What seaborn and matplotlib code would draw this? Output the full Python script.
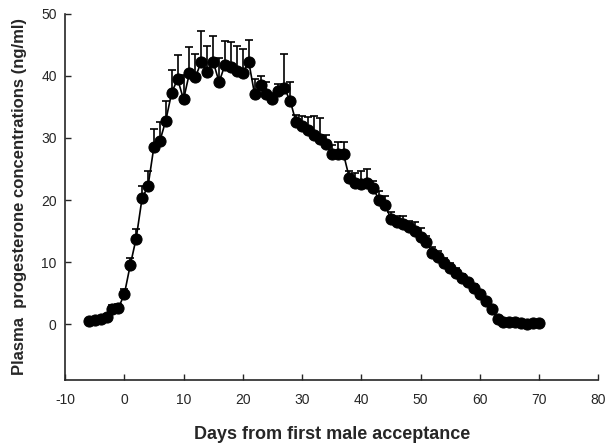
import numpy as np
import pandas as pd
import matplotlib
matplotlib.use("Agg")
import matplotlib.pyplot as plt
import seaborn as sns

# ------------------------------
# Data
# ------------------------------
days = list(range(-6, 71))
progesterone = [0.5, 0.7, 0.8, 1.2, 2.5, 2.6, 4.8, 9.5, 13.8, 20.3, 22.2, 28.6,
                29.5, 32.8, 37.3, 39.5, 36.2, 40.5, 39.8, 42.3, 40.6, 42.3, 39.0,
                41.8, 41.5, 40.8, 40.4, 42.3, 37.0, 38.5, 37.0, 36.2, 37.5, 38.0,
                36.0, 32.5, 32.0, 31.3, 30.5, 29.9, 29.0, 27.4, 27.4, 27.4, 23.5,
                22.8, 22.6, 22.8, 21.9, 20.0, 19.2, 17.0, 16.5, 16.2, 15.6, 15.0,
                14.0, 13.2, 11.5, 10.8, 9.8, 9.0, 8.2, 7.5, 6.8, 5.8, 4.8, 3.8,
                2.5, 0.8, 0.3, 0.4, 0.3, 0.2, 0.1, 0.2, 0.2]
sem = [0.3, 0.3, 0.4, 0.5, 0.6, 0.6, 0.8, 1.2, 1.6, 2.0, 2.4, 2.8,
       3.0, 3.2, 3.6, 3.8, 4.0, 4.2, 3.8, 5.0, 4.2, 4.2, 3.8,
       3.8, 3.9, 4.0, 4.0, 3.5, 2.5, 1.5, 2.0, 1.0, 1.2, 5.5,
       3.0, 1.2, 1.5, 2.0, 3.0, 3.3, 1.5, 1.5, 2.0, 2.0, 1.2,
       1.5, 2.0, 2.2, 1.2, 1.5, 1.5, 1.0, 1.0, 1.3, 1.0, 1.4,
       1.5, 1.0, 1.0, 1.0, 0.8, 0.8, 0.8, 0.6, 0.5, 0.6, 0.5, 0.4,
       0.3, 0.2, 0.1, 0.1, 0.1, 0.1, 0.1, 0.1, 0.1]

df = pd.DataFrame({"day": days, "p4": progesterone, "sem": sem})

# ------------------------------
# Plot
# ------------------------------
sns.set_style("ticks")
plt.rcParams['font.family'] = ['Liberation Sans', 'DejaVu Sans']
plt.rcParams['axes.unicode_minus'] = False

fig = plt.figure(figsize=(6.08, 4.45), dpi=100)
ax = fig.add_axes([0.107, 0.146, 0.877, 0.823])

# upper-only error bars
ax.errorbar(df["day"], df["p4"], yerr=[np.zeros(len(df)), df["sem"]],
            fmt="none", ecolor="black", elinewidth=1.2, capsize=3, capthick=1.2,
            zorder=1)
sns.lineplot(data=df, x="day", y="p4", ax=ax, color="black", linewidth=1.2,
             marker="o", markersize=8, markeredgecolor="black",
             markerfacecolor="black", zorder=2)

ax.set_xlim(-10, 80)
ax.set_ylim(-9, 50)
ax.set_xticks(range(-10, 81, 10))
ax.set_yticks(range(0, 51, 10))
ax.tick_params(direction="in", length=4, width=1, labelsize=10)
ax.tick_params(axis="x", pad=9)
ax.tick_params(axis="y", pad=6)
for sp in ["top", "right"]:
    ax.spines[sp].set_visible(False)
for sp in ["left", "bottom"]:
    ax.spines[sp].set_linewidth(1.2)

ax.set_xlabel("Days from first male acceptance", fontsize=13, fontweight="bold",
              labelpad=14)
ax.set_ylabel("Plasma  progesterone concentrations (ng/ml)", fontsize=12,
              fontweight="bold", labelpad=10)

fig.savefig("out.png", dpi=100)
